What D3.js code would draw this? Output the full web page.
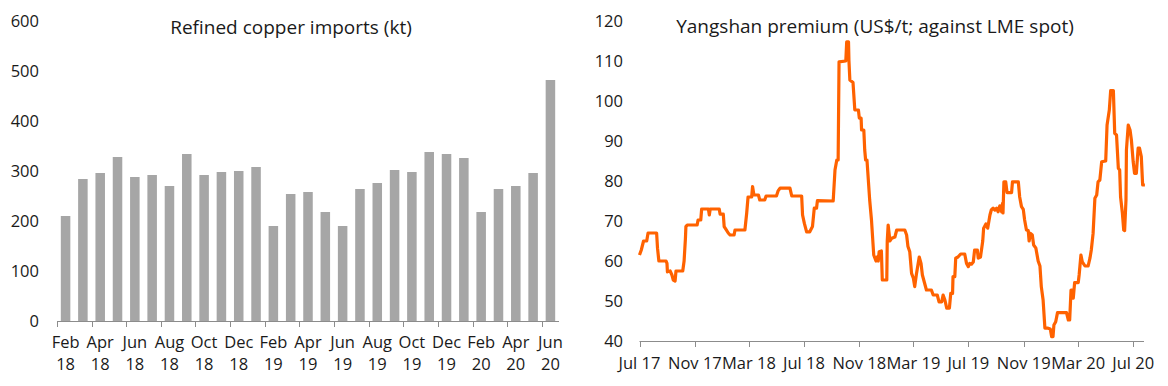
<!DOCTYPE html>
<html lang="en">
  <head>
    <meta charset="UTF-8" />
    <title>Copper imports and Yangshan premium</title>
    <script src="https://d3js.org/d3.v7.min.js"></script>
    <style>
      body {
        margin: 0;
        background: #fff;
        font-family: 'Open Sans', sans-serif;
      }
      svg text {
        fill: #1a1a1a;
      }
      .tick-label {
        font-size: 16.5px;
      }
      .title {
        font-size: 19px;
      }
    </style>
  </head>
  <body>
    <svg width="1168" height="386"></svg>

    <script>
      // Left chart: refined copper imports (kt), Feb 18 - Jun 20
      const months = [
        'Feb 18', 'Mar 18', 'Apr 18', 'May 18', 'Jun 18', 'Jul 18', 'Aug 18', 'Sep 18',
        'Oct 18', 'Nov 18', 'Dec 18', 'Jan 19', 'Feb 19', 'Mar 19', 'Apr 19', 'May 19',
        'Jun 19', 'Jul 19', 'Aug 19', 'Sep 19', 'Oct 19', 'Nov 19', 'Dec 19', 'Jan 20',
        'Feb 20', 'Mar 20', 'Apr 20', 'May 20', 'Jun 20',
      ];
      const imports = [
        210, 284, 296, 328, 288, 292, 270, 334, 292, 298, 300, 308, 190, 254, 258, 218,
        190, 264, 276, 302, 298, 338, 334, 326, 218, 264, 270, 296, 482,
      ];
      const importTicks = [0, 100, 200, 300, 400, 500, 600];

      // Right chart: Yangshan premium (US$/t)
      const premiumDates = [
        '2017-07-01', '2017-07-05', '2017-07-10', '2017-07-17', '2017-07-20', '2017-08-08',
        '2017-08-10', '2017-08-13', '2017-08-29', '2017-08-31', '2017-09-01', '2017-09-07',
        '2017-09-11', '2017-09-14', '2017-09-18', '2017-09-20', '2017-10-05', '2017-10-08',
        '2017-10-11', '2017-10-12', '2017-10-15', '2017-11-06', '2017-11-08', '2017-11-14',
        '2017-11-16', '2017-12-01', '2017-12-03', '2017-12-05', '2017-12-25', '2017-12-27',
        '2018-01-03', '2018-01-05', '2018-01-09', '2018-01-14', '2018-01-18', '2018-01-27',
        '2018-01-29', '2018-02-20', '2018-02-24', '2018-02-27', '2018-03-07', '2018-03-09',
        '2018-03-12', '2018-03-22', '2018-03-25', '2018-04-05', '2018-04-08', '2018-05-01',
        '2018-05-05', '2018-05-09', '2018-05-31', '2018-06-04', '2018-06-26', '2018-06-28',
        '2018-07-02', '2018-07-07', '2018-07-14', '2018-07-20', '2018-07-24', '2018-07-29',
        '2018-07-31', '2018-09-04', '2018-09-08', '2018-09-12', '2018-09-15', '2018-09-17',
        '2018-10-02', '2018-10-04', '2018-10-08', '2018-10-09', '2018-10-11', '2018-10-18',
        '2018-10-22', '2018-10-30', '2018-11-01', '2018-11-05', '2018-11-06', '2018-11-11',
        '2018-11-13', '2018-11-15', '2018-11-18', '2018-11-24', '2018-11-28', '2018-12-03',
        '2018-12-08', '2018-12-11', '2018-12-13', '2018-12-15', '2018-12-20', '2018-12-22',
        '2019-01-01', '2019-01-02', '2019-01-04', '2019-01-08', '2019-01-12', '2019-01-19',
        '2019-01-23', '2019-02-10', '2019-02-14', '2019-02-17', '2019-02-21', '2019-02-25',
        '2019-03-01', '2019-03-04', '2019-03-08', '2019-03-14', '2019-03-18', '2019-03-21',
        '2019-03-27', '2019-03-30', '2019-04-10', '2019-04-14', '2019-04-23', '2019-04-27',
        '2019-05-03', '2019-05-06', '2019-05-10', '2019-05-14', '2019-05-20', '2019-05-23',
        '2019-05-27', '2019-05-28', '2019-06-01', '2019-06-03', '2019-06-08', '2019-06-14',
        '2019-06-23', '2019-06-27', '2019-07-01', '2019-07-04', '2019-07-08', '2019-07-12',
        '2019-07-15', '2019-07-21', '2019-07-23', '2019-07-28', '2019-08-02', '2019-08-04',
        '2019-08-09', '2019-08-13', '2019-08-18', '2019-08-21', '2019-08-25', '2019-08-29',
        '2019-09-02', '2019-09-05', '2019-09-09', '2019-09-13', '2019-09-15', '2019-09-16',
        '2019-09-18', '2019-09-22', '2019-09-25', '2019-10-05', '2019-10-07', '2019-10-20',
        '2019-10-23', '2019-10-27', '2019-10-31', '2019-11-03', '2019-11-07', '2019-11-11',
        '2019-11-13', '2019-11-16', '2019-11-20', '2019-11-23', '2019-11-28', '2019-12-03',
        '2019-12-07', '2019-12-10', '2019-12-14', '2019-12-18', '2019-12-25', '2019-12-30',
        '2020-01-02', '2020-01-05', '2020-01-07', '2020-01-11', '2020-01-15', '2020-02-04',
        '2020-02-08', '2020-02-11', '2020-02-14', '2020-02-16', '2020-02-19', '2020-02-22',
        '2020-03-01', '2020-03-03', '2020-03-07', '2020-03-10', '2020-03-16', '2020-03-23',
        '2020-03-27', '2020-03-30', '2020-04-03', '2020-04-07', '2020-04-11', '2020-04-14',
        '2020-04-18', '2020-04-22', '2020-05-01', '2020-05-04', '2020-05-09', '2020-05-12',
        '2020-05-18', '2020-05-21', '2020-05-25', '2020-05-29', '2020-06-01', '2020-06-03',
        '2020-06-07', '2020-06-10', '2020-06-12', '2020-06-15', '2020-06-16', '2020-06-20',
        '2020-06-24', '2020-06-27', '2020-07-01', '2020-07-04', '2020-07-08', '2020-07-12',
        '2020-07-15', '2020-07-19', '2020-07-22', '2020-07-27',
      ];
      const premiumValues = [
        61.5, 62.75, 65, 65, 67, 67,
        63.2, 60, 60, 59.4, 57.3, 57.5,
        56.5, 55.25, 55, 57.5, 57.5, 60,
        65.7, 68.6, 69, 69, 70.25, 70.25,
        73, 73, 71.5, 73, 73, 71.7,
        71.7, 68.6, 67.9, 67, 66.5, 66.5,
        67.75, 67.75, 72, 76, 76, 78.6,
        76.5, 76.5, 75.25, 75.25, 76.25, 76.25,
        77.6, 78.2, 78.2, 76.25, 76.25, 71.5,
        69.4, 67.3, 67.3, 68.6, 73.2, 73.2,
        75.1, 75, 82.75, 85.25, 85.25, 109.8,
        110, 114.8, 114.8, 110, 105.25, 104.6,
        97.75, 97.75, 95.7, 95.7, 92.75, 92.75,
        87.75, 85.25, 85.25, 75.25, 70.25, 61.5,
        60, 61, 60, 62.3, 62.5, 55.25,
        55.25, 65, 69, 65, 65.7, 66,
        67.75, 67.75, 66.5, 63.6, 62.3, 56.9,
        55.7, 53.6, 56.9, 61, 59.4, 56.5,
        54, 52.75, 52.75, 51.5, 51.5, 49.8,
        49.8, 51.5, 50.25, 48.2, 48.2, 51.9,
        51.9, 56.1, 56.1, 60.7, 61, 61.75,
        61.75, 59.4, 58.6, 59.4, 59.2, 59.75,
        62.75, 62.75, 60.7, 61, 65, 68.2,
        69.25, 68.2, 71.5, 72.75, 73.2, 72.75,
        73.2, 72.3, 73.8, 72.3, 74.4, 72,
        79.8, 79.8, 77.1, 77.1, 79.8, 79.8,
        76, 73.6, 72.9, 70.25, 67.75, 67.6,
        65, 66.9, 66.5, 64, 63.2, 60,
        58.75, 53.6, 50.25, 43.2, 43.2, 43,
        41.1, 41.1, 44, 44.8, 47.1, 47.1,
        45.25, 45.25, 52.75, 52.75, 50.7, 54.6,
        54.6, 56.5, 61.5, 59.8, 58.75, 58.75,
        60.7, 62.75, 66.9, 75.7, 76.5, 79.8,
        80.25, 84.8, 85, 94, 97.75, 102.6,
        102.6, 91.9, 91.5, 83.2, 82.75, 76,
        72, 67.75, 67.6, 75.25, 87.75, 94,
        92.75, 90.25, 84.8, 81.9, 81.9, 88.2,
        88.2, 86.1, 79, 79,
      ];
      const premiumTicks = [40, 50, 60, 70, 80, 90, 100, 110, 120];
      const premiumAxisDates = [
        '2017-07-01', '2017-11-01', '2018-03-01', '2018-07-01', '2018-11-01',
        '2019-03-01', '2019-07-01', '2019-11-01', '2020-03-01', '2020-07-01',
      ];

      const svg = d3.select('svg');
      const parse = d3.utcParse('%Y-%m-%d');
      const axisColor = '#8c8c8c';

      // ---------- left: bar chart ----------
      const xBand = d3
        .scaleBand()
        .domain(months)
        .range([57, 559])
        .paddingInner(0.45)
        .paddingOuter(0.22);
      const yImp = d3.scaleLinear().domain([0, 600]).range([321, 21]);

      const left = svg.append('g');

      left
        .selectAll('rect')
        .data(months)
        .join('rect')
        .attr('x', (d) => xBand(d))
        .attr('y', (d, i) => yImp(imports[i]))
        .attr('width', xBand.bandwidth())
        .attr('height', (d, i) => yImp(0) - yImp(imports[i]))
        .attr('fill', '#a6a6a6');

      left
        .selectAll('.ylab')
        .data(importTicks)
        .join('text')
        .attr('class', 'tick-label')
        .attr('x', 39)
        .attr('y', (d) => yImp(d))
        .attr('dy', '0.35em')
        .attr('text-anchor', 'end')
        .text((d) => d);

      left
        .append('line')
        .attr('x1', 57)
        .attr('x2', 559)
        .attr('y1', yImp(0) + 0.5)
        .attr('y2', yImp(0) + 0.5)
        .attr('stroke', axisColor);

      // ticks sit on the left edge of every second month's slot
      const gap = (xBand.step() - xBand.bandwidth()) / 2;
      const tickMonths = months.filter((d, i) => i % 2 === 0);
      left
        .selectAll('.xtick')
        .data(tickMonths)
        .join('line')
        .attr('x1', (d) => Math.round(xBand(d) - gap) + 0.5)
        .attr('x2', (d) => Math.round(xBand(d) - gap) + 0.5)
        .attr('y1', yImp(0))
        .attr('y2', yImp(0) + 6)
        .attr('stroke', axisColor);

      const xl = left
        .selectAll('.xlab')
        .data(tickMonths)
        .join('text')
        .attr('class', 'tick-label')
        .attr('text-anchor', 'middle')
        .attr('transform', (d) => `translate(${xBand(d) + xBand.bandwidth() / 2},0)`);
      xl.append('tspan')
        .attr('x', 0)
        .attr('y', 348)
        .text((d) => d.split(' ')[0]);
      xl.append('tspan')
        .attr('x', 0)
        .attr('y', 370)
        .text((d) => d.split(' ')[1]);

      left
        .append('text')
        .attr('class', 'title')
        .attr('x', 291)
        .attr('y', 34)
        .attr('text-anchor', 'middle')
        .text('Refined copper imports (kt)');

      // ---------- right: line chart ----------
      const premium = premiumDates.map((d, i) => ({
        date: parse(d),
        value: premiumValues[i],
      }));

      const xTime = d3
        .scaleUtc()
        .domain([parse('2017-07-01'), parse('2020-07-25')])
        .range([639.5, 1144]);
      const yPrem = d3.scaleLinear().domain([40, 120]).range([341, 21]);

      const right = svg.append('g');

      right
        .selectAll('.ylab')
        .data(premiumTicks)
        .join('text')
        .attr('class', 'tick-label')
        .attr('x', 623)
        .attr('y', (d) => yPrem(d))
        .attr('dy', '0.35em')
        .attr('text-anchor', 'end')
        .text((d) => d);

      right
        .append('line')
        .attr('x1', xTime.range()[0])
        .attr('x2', xTime.range()[1])
        .attr('y1', yPrem(40) + 0.5)
        .attr('y2', yPrem(40) + 0.5)
        .attr('stroke', axisColor);

      const axisDates = premiumAxisDates.map(parse);
      right
        .selectAll('.xtick')
        .data(axisDates)
        .join('line')
        .attr('x1', (d) => Math.round(xTime(d)) + 0.5)
        .attr('x2', (d) => Math.round(xTime(d)) + 0.5)
        .attr('y1', yPrem(40))
        .attr('y2', yPrem(40) + 6)
        .attr('stroke', axisColor);

      right
        .selectAll('.xlab')
        .data(axisDates)
        .join('text')
        .attr('class', 'tick-label')
        .attr('x', (d) => xTime(d))
        .attr('y', 369)
        .attr('text-anchor', 'middle')
        .text((d) => d3.utcFormat('%b %y')(d));

      right
        .append('path')
        .datum(premium)
        .attr('fill', 'none')
        .attr('stroke', '#ff6200')
        .attr('stroke-width', 3.2)
        .attr('stroke-linejoin', 'round')
        .attr(
          'd',
          d3
            .line()
            .x((d) => xTime(d.date))
            .y((d) => yPrem(d.value)),
        );

      right
        .append('text')
        .attr('class', 'title')
        .attr('x', 875)
        .attr('y', 33)
        .attr('text-anchor', 'middle')
        .text('Yangshan premium (US$/t; against LME spot)');
    </script>
  </body>
</html>
